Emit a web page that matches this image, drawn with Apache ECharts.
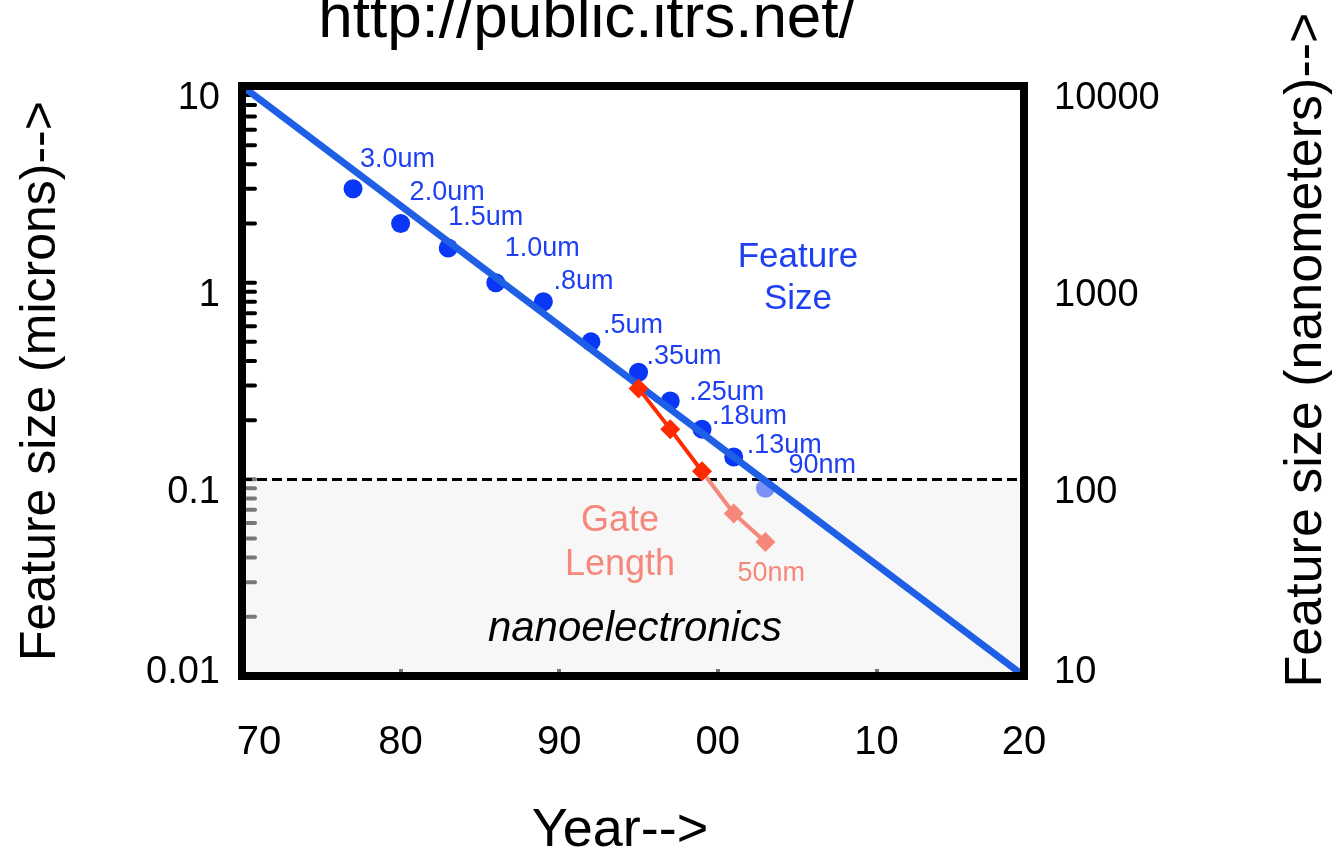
<!DOCTYPE html>
<html>
<head>
<meta charset="utf-8">
<title>Feature size vs year</title>
<script src="https://cdn.jsdelivr.net/npm/echarts@6/dist/echarts.min.js"></script>
<style>
  html, body { margin: 0; padding: 0; background: #fff; }
  #chart { width: 1336px; height: 858px; }
</style>
</head>
<body>
<div id="chart"></div>
<script>
// technology nodes (feature size, microns)
const nodeYears = [1977, 1980, 1983, 1986, 1989, 1992, 1995, 1997, 1999, 2001, 2003]
const featureSize = [3.0, 2.0, 1.5, 1.0, 0.8, 0.5, 0.35, 0.25, 0.18, 0.13, 0.09]
const nodeNames = ['3.0um', '2.0um', '1.5um', '1.0um', '.8um', '.5um', '.35um', '.25um', '.18um', '.13um', '90nm']

// gate length (microns)
const gateYears = [1995, 1997, 1999, 2001, 2003]
const gateLength = [0.29, 0.18, 0.11, 0.067, 0.048]
const gateNames = ['', '', '', '', '50nm']

// trend line, corner to corner of the frame
const trendYears = [1970, 2019.3]
const trendSize = [10, 0.01]

// tick labels
const micronLabels = ['0.01', '0.1', '1', '10']
const nanometerLabels = ['10', '100', '1000', '10000']
const nanoLimit = 0.1

// label nudges for the node names (px)
const nodeLabelOffsets = [[7, -29], [9, -31], [0, -30], [9, -34], [10, -20], [12, -16], [8, -16], [19, -9], [10, -13], [13, -11], [23, -23]]

const FONT = '"Liberation Sans", Arial, sans-serif'
const BLUE = '#0a37f5'
const BLUE_TEXT = '#1f40f2'
const BLUE_LIGHT = '#7d90f5'
const RED = '#ff2a00'
const SALMON = '#f5887a'

// log minor ticks 1..9 per decade
const tickVals = []
for (let e = -2; e < 1; e++) {
  for (let m = 1; m < 10; m++) tickVals.push(m * Math.pow(10, e))
}

// gate points split at the nano limit: red above, salmon from the last red point down
const gatePoints = gateYears.map(function (y, i) { return { value: [y, gateLength[i]], name: gateNames[i] } })
const firstNano = gatePoints.findIndex(function (p) { return p.value[1] <= nanoLimit })
const gateMicro = gatePoints.slice(0, firstNano)
const gateNano = gatePoints.slice(firstNano - 1).map(function (p, i) {
  return i === 0 ? { value: p.value, name: '', symbolSize: 0 } : p
})

const chart = echarts.init(document.getElementById('chart'))

function decadeLabel(labels, base) {
  return function (v) {
    const idx = Math.round(Math.log10(v / base))
    return idx === 0 ? '{u|' + labels[idx] + '}' : '{d|' + labels[idx] + '}'
  }
}

const yLabelRich = {
  d: { fontSize: 38, fontFamily: FONT, color: '#000', padding: [26, 0, 0, 0] },
  u: { fontSize: 38, fontFamily: FONT, color: '#000', padding: [0, 0, 6, 0] }
}

const gateLabel = {
  show: true, position: 'inside', align: 'left', verticalAlign: 'middle',
  offset: [-28, 32], formatter: '{b}', color: SALMON, fontSize: 27, fontFamily: FONT
}

chart.setOption({
  animation: false,
  backgroundColor: '#fff',
  textStyle: { fontFamily: FONT },
  grid: {
    left: 242, right: 312, top: 86, bottom: 182,
    outerBoundsMode: 'none',
    containLabel: false,
    show: true, borderWidth: 8, borderColor: '#000',
    backgroundColor: 'transparent', z: 10
  },
  xAxis: {
    type: 'value',
    min: 1970, max: trendYears[1], interval: 10,
    z: 5,
    axisLine: { show: false },
    axisTick: { show: true, inside: true, length: 7, lineStyle: { color: '#777', width: 4 } },
    splitLine: { show: false },
    axisLabel: {
      margin: 47, color: '#000',
      formatter: function (v) {
        const s = String(Math.round(v / 10) * 10 % 100).padStart(2, '0')
        return v === 1970 ? '{f|' + s + '}' : '{n|' + s + '}'
      },
      rich: {
        f: { fontSize: 40, fontFamily: FONT, color: '#000', padding: [0, 0, 0, 34] },
        n: { fontSize: 40, fontFamily: FONT, color: '#000' }
      }
    },
    name: 'Year-->',
    nameLocation: 'middle',
    nameGap: 128,
    nameTextStyle: { fontSize: 54, fontFamily: FONT, color: '#000', padding: [0, 26, 0, 0] }
  },
  yAxis: [{
    type: 'log', logBase: 10, min: 0.01, max: 10,
    position: 'left',
    axisLine: { show: false },
    axisTick: { show: false },
    splitLine: { show: false },
    axisLabel: { margin: 22, formatter: decadeLabel(micronLabels, 0.01), rich: yLabelRich },
    name: 'Feature size (microns)-->',
    nameLocation: 'middle',
    nameRotate: 90,
    nameGap: 176,
    nameTextStyle: { fontSize: 50, fontFamily: FONT, color: '#000' }
  }, {
    type: 'log', logBase: 10, min: 10, max: 10000,
    position: 'right',
    axisLine: { show: false },
    axisTick: { show: false },
    splitLine: { show: false },
    axisLabel: { margin: 30, formatter: decadeLabel(nanometerLabels, 10), rich: yLabelRich }
  }],
  graphic: [
    {
      type: 'text', x: 587, y: 20,
      style: { text: 'http://public.itrs.net/', font: '62px ' + FONT, fill: '#000', align: 'center', verticalAlign: 'middle' }
    },
    {
      type: 'text', x: 1307, y: 350, rotation: Math.PI / 2,
      style: { text: 'Feature size (nanometers)-->', font: '52px ' + FONT, fill: '#000', align: 'center', verticalAlign: 'middle' }
    },
    {
      type: 'text', x: 798, y: 278, z: 20,
      style: { text: 'Feature\nSize', font: '35px ' + FONT, lineHeight: 42, fill: BLUE_TEXT, align: 'center', verticalAlign: 'middle' }
    },
    {
      type: 'text', x: 620, y: 543, z: 20,
      style: { text: 'Gate\nLength', font: '36px ' + FONT, lineHeight: 44, fill: SALMON, align: 'center', verticalAlign: 'middle' }
    },
    {
      type: 'text', x: 635, y: 629, z: 20,
      style: { text: 'nanoelectronics', font: 'italic 42px ' + FONT, fill: '#000', align: 'center', verticalAlign: 'middle' }
    }
  ],
  series: [
    {
      // nano region + 0.1 micron line
      type: 'line', data: [], z: 1, silent: true,
      markArea: {
        silent: true,
        itemStyle: { color: '#f7f7f7' },
        data: [[{ yAxis: 0.01 }, { yAxis: nanoLimit }]]
      },
      markLine: {
        silent: true, symbol: 'none',
        label: { show: false },
        lineStyle: { color: '#000', width: 3, type: [10, 5] },
        data: [{ yAxis: nanoLimit }]
      }
    },
    {
      // left minor ticks
      type: 'custom', z: 3, silent: true,
      data: tickVals.map(function (v) { return [1970, v] }),
      renderItem: function (params, api) {
        const p = api.coord([api.value(0), api.value(1)])
        return {
          type: 'line',
          shape: { x1: p[0] + 5, y1: p[1], x2: p[0] + 13, y2: p[1] },
          style: { stroke: api.value(1) <= nanoLimit * 1.001 ? '#777' : '#000', lineWidth: 4, lineCap: 'round' }
        }
      }
    },
    {
      type: 'scatter', z: 4,
      symbol: 'circle', symbolSize: 19,
      data: nodeYears.map(function (y, i) {
        return {
          value: [y, featureSize[i]],
          name: nodeNames[i],
          label: { offset: nodeLabelOffsets[i] }
        }
      }),
      itemStyle: {
        opacity: 1,
        color: function (p) { return p.value[1] < nanoLimit ? BLUE_LIGHT : BLUE }
      },
      label: {
        show: true, position: 'inside', align: 'left', verticalAlign: 'middle',
        formatter: '{b}', color: BLUE_TEXT, fontSize: 27, fontFamily: FONT
      }
    },
    {
      type: 'line', z: 5,
      data: trendYears.map(function (y, i) { return [y, trendSize[i]] }),
      showSymbol: false, symbol: 'none',
      lineStyle: { color: '#1f5fe6', width: 7 }
    },
    {
      type: 'line', z: 6,
      data: gateNano,
      symbol: 'diamond', symbolSize: 20,
      itemStyle: { color: SALMON },
      lineStyle: { color: SALMON, width: 4 },
      label: gateLabel
    },
    {
      type: 'line', z: 7,
      data: gateMicro,
      symbol: 'diamond', symbolSize: 20,
      itemStyle: { color: RED },
      lineStyle: { color: RED, width: 4 },
      label: gateLabel
    }
  ]
})
</script>
</body>
</html>
